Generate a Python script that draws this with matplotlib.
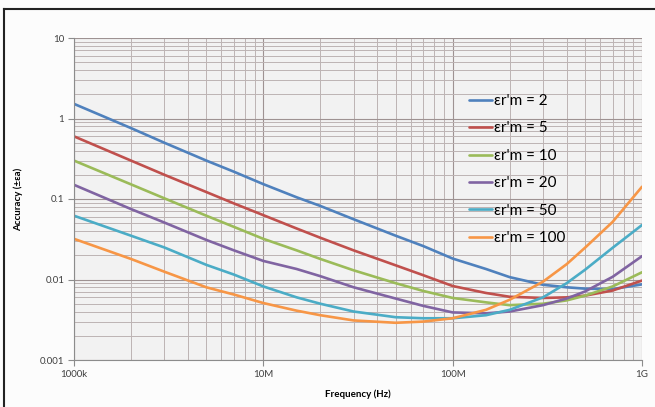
import matplotlib
matplotlib.use("Agg")
import matplotlib.pyplot as plt
from matplotlib.ticker import FixedLocator, LogLocator, NullFormatter

plt.rcParams['font.family'] = ['Lato', 'DejaVu Sans']

# frequency points (Hz)
freq = [1e6, 2e6, 3e6, 5e6, 7e6, 10e6, 15e6, 20e6, 30e6, 50e6, 70e6, 100e6,
        150e6, 200e6, 300e6, 400e6, 500e6, 700e6, 1e9]

# accuracy, one list per permittivity
acc_2 = [1.52, 0.76, 0.50, 0.30, 0.218, 0.153, 0.105, 0.082, 0.056, 0.035, 0.026,
         0.0182, 0.0135, 0.0107, 0.0086, 0.0080, 0.0077, 0.0076, 0.0087]
acc_5 = [0.60, 0.30, 0.20, 0.122, 0.088, 0.063, 0.043, 0.033, 0.023, 0.0150, 0.0113,
         0.0083, 0.0068, 0.0061, 0.0059, 0.0060, 0.0063, 0.0073, 0.0097]
acc_10 = [0.30, 0.152, 0.102, 0.062, 0.045, 0.032, 0.023, 0.0180, 0.0130, 0.0090, 0.0072,
          0.0059, 0.0052, 0.0048, 0.0050, 0.0055, 0.0063, 0.0082, 0.0123]
acc_20 = [0.150, 0.075, 0.051, 0.031, 0.023, 0.017, 0.0135, 0.0110, 0.0080, 0.0058, 0.0047,
          0.0039, 0.0038, 0.0040, 0.0048, 0.0058, 0.0071, 0.0108, 0.0195]
acc_50 = [0.062, 0.035, 0.025, 0.0152, 0.0115, 0.0082, 0.0060, 0.0050, 0.0040, 0.0034, 0.0033,
          0.0033, 0.0036, 0.0042, 0.0060, 0.0090, 0.0132, 0.0248, 0.0475]
acc_100 = [0.032, 0.018, 0.0125, 0.0080, 0.0065, 0.0051, 0.0041, 0.0036, 0.0031, 0.0029, 0.0030,
           0.0033, 0.0042, 0.0056, 0.0094, 0.0155, 0.0248, 0.052, 0.142]

series = [acc_2, acc_5, acc_10, acc_20, acc_50, acc_100]
labels = ["εr'm = 2", "εr'm = 5", "εr'm = 10", "εr'm = 20", "εr'm = 50", "εr'm = 100"]
colors = ['#4F81BD', '#C0504D', '#9BBB59', '#8064A2', '#4BACC6', '#F79646']

xticks = [1e6, 1e7, 1e8, 1e9]
xticklabels = ['1000k', '10M', '100M', '1G']
yticks = [0.001, 0.01, 0.1, 1, 10]
yticklabels = ['0.001', '0.01', '0.1', '1', '10']

fig = plt.figure(figsize=(6.55, 4.07), dpi=100, facecolor='#FCFCFC')
ax = fig.add_axes([74/655, 1-360/407, (642-74)/655, (360-38)/407])
ax.set_facecolor('#F2F2F2')

for y, lab, c in zip(series, labels, colors):
    ax.plot(freq, y, color=c, lw=1.9, label=lab, solid_capstyle='round',
            solid_joinstyle='round')

ax.set_xscale('log')
ax.set_yscale('log')
ax.set_xlim(1e6, 1e9)
ax.set_ylim(0.001, 10)

ax.xaxis.set_major_locator(FixedLocator(xticks))
ax.set_xticklabels(xticklabels)
ax.yaxis.set_major_locator(FixedLocator(yticks))
ax.set_yticklabels(yticklabels)
ax.xaxis.set_minor_locator(LogLocator(base=10, subs=range(2, 10)))
ax.yaxis.set_minor_locator(LogLocator(base=10, subs=range(2, 10)))
ax.xaxis.set_minor_formatter(NullFormatter())
ax.yaxis.set_minor_formatter(NullFormatter())

ax.grid(True, which='major', color='#9E9292', lw=0.8)
ax.grid(True, which='minor', color='#BDB4B4', lw=0.7)
ax.set_axisbelow(True)

for s in ['top', 'right']:
    ax.spines[s].set_visible(False)
for s in ['left', 'bottom']:
    ax.spines[s].set_color('#8C8C8C')
    ax.spines[s].set_linewidth(0.8)

ax.tick_params(which='major', length=4, width=0.8, color='#8C8C8C',
               labelsize=7, labelcolor='#404040', pad=3)
ax.tick_params(which='minor', length=0)

ax.set_xlabel('Frequency (Hz)', fontsize=7, fontweight='bold', labelpad=8)
ax.set_ylabel('Accuracy (±εa)', fontsize=7, fontweight='bold', labelpad=12)

leg = ax.legend(loc='upper left', bbox_to_anchor=(0.685, 0.845), frameon=False,
                fontsize=11, handlelength=1.5, handletextpad=0.15,
                labelspacing=0.88, borderaxespad=0)

# outer frame lines (top and left only)
fig.add_artist(plt.Line2D([4/655, 4/655], [0, 1-9/407], color='#222222', lw=1.5,
                          transform=fig.transFigure))
fig.add_artist(plt.Line2D([4/655, 1], [1-9/407, 1-9/407], color='#222222', lw=1.5,
                          transform=fig.transFigure))

fig.savefig('out.png', dpi=100, facecolor=fig.get_facecolor())
